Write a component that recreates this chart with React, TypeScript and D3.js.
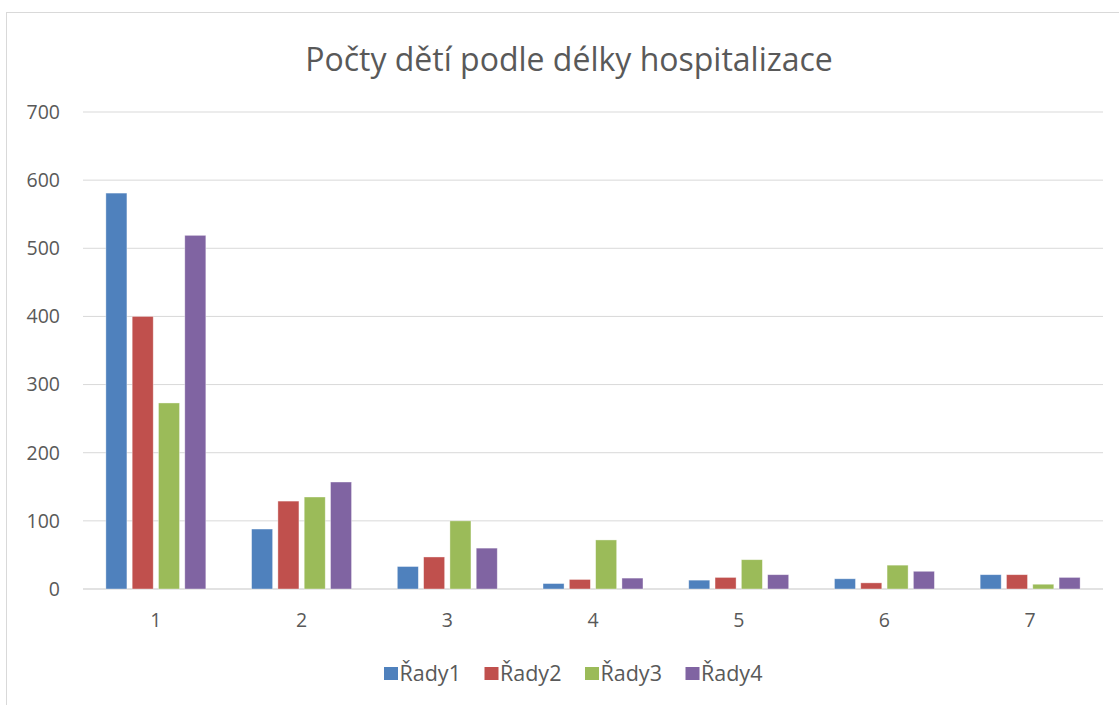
import { useMemo } from "react";
import * as d3 from "d3";

const categories = ["1", "2", "3", "4", "5", "6", "7"];
const seriesNames = ["Řady1", "Řady2", "Řady3", "Řady4"];
const rady1 = [581, 88, 33, 8, 13, 15, 21];
const rady2 = [400, 129, 47, 14, 17, 9, 21];
const rady3 = [273, 135, 100, 72, 43, 35, 7];
const rady4 = [519, 157, 60, 16, 21, 26, 17];
const yTicks = [0, 100, 200, 300, 400, 500, 600, 700];
const colors = ["#4f81bd", "#c0504d", "#9bbb59", "#8064a2"];

const width = 1119;
const height = 705;
const margin = { top: 112, right: 16, bottom: 116, left: 83 };
const font = "'Open Sans', sans-serif";
const textColor = "#595959";

const App = () => {
  const series = [rady1, rady2, rady3, rady4];

  const x = useMemo(
    () =>
      d3
        .scaleBand()
        .domain(categories)
        .range([margin.left, width - margin.right])
        .paddingInner(0.314)
        .paddingOuter(0.157),
    []
  );
  const xInner = useMemo(
    () =>
      d3
        .scaleBand()
        .domain(seriesNames)
        .range([0, x.bandwidth()])
        .paddingInner(0.2),
    [x]
  );
  const y = useMemo(
    () =>
      d3
        .scaleLinear()
        .domain([0, 700])
        .range([height - margin.bottom, margin.top]),
    []
  );

  // legend: one slot per series, laid out with a band scale
  const legend = d3
    .scaleBand()
    .domain(seriesNames)
    .range([384, 786]);

  return (
    <svg
      width={width}
      height={height}
      style={{ position: "absolute", left: 0, top: 0, background: "#fff" }}
    >
      <rect x={6.5} y={12.5} width={width + 10} height={height} fill="#fff" stroke="#d9d9d9" />
      <text
        x={569}
        y={71}
        textAnchor="middle"
        fontFamily={font}
        fontSize={32}
        fill={textColor}
      >
        Počty dětí podle délky hospitalizace
      </text>

      <g>
        {yTicks.map((t) => (
          <g key={t}>
            <line
              x1={margin.left}
              x2={width - margin.right}
              y1={y(t)}
              y2={y(t)}
              stroke="#d9d9d9"
              strokeWidth={t === 0 ? 1.5 : 1}
            />
            <text
              x={60}
              y={y(t)}
              dy="0.35em"
              textAnchor="end"
              fontFamily={font}
              fontSize={19.5}
              fill={textColor}
            >
              {t}
            </text>
          </g>
        ))}
      </g>

      <g>
        {categories.map((c, i) => (
          <g key={c} transform={`translate(${x(c)},0)`}>
            {series.map((s, j) => (
              <rect
                key={j}
                x={xInner(seriesNames[j])}
                y={y(s[i])}
                width={xInner.bandwidth()}
                height={y(0) - y(s[i])}
                fill={colors[j]}
                stroke="#fff"
                strokeOpacity={0.5}
                strokeWidth={0.75}
              />
            ))}
          </g>
        ))}
      </g>

      <g>
        {categories.map((c) => (
          <text
            key={c}
            x={(x(c) as number) + x.bandwidth() / 2}
            y={620}
            dy="0.35em"
            textAnchor="middle"
            fontFamily={font}
            fontSize={19.5}
            fill={textColor}
          >
            {c}
          </text>
        ))}
      </g>

      <g>
        {seriesNames.map((n, j) => (
          <g key={n} transform={`translate(${legend(n)},0)`}>
            <rect x={0} y={667} width={14} height={13} fill={colors[j]} />
            <text
              x={15.5}
              y={673.5}
              dy="0.35em"
              fontFamily={font}
              fontSize={21.5}
              fill={textColor}
            >
              {n}
            </text>
          </g>
        ))}
      </g>
    </svg>
  );
};

export default App;
